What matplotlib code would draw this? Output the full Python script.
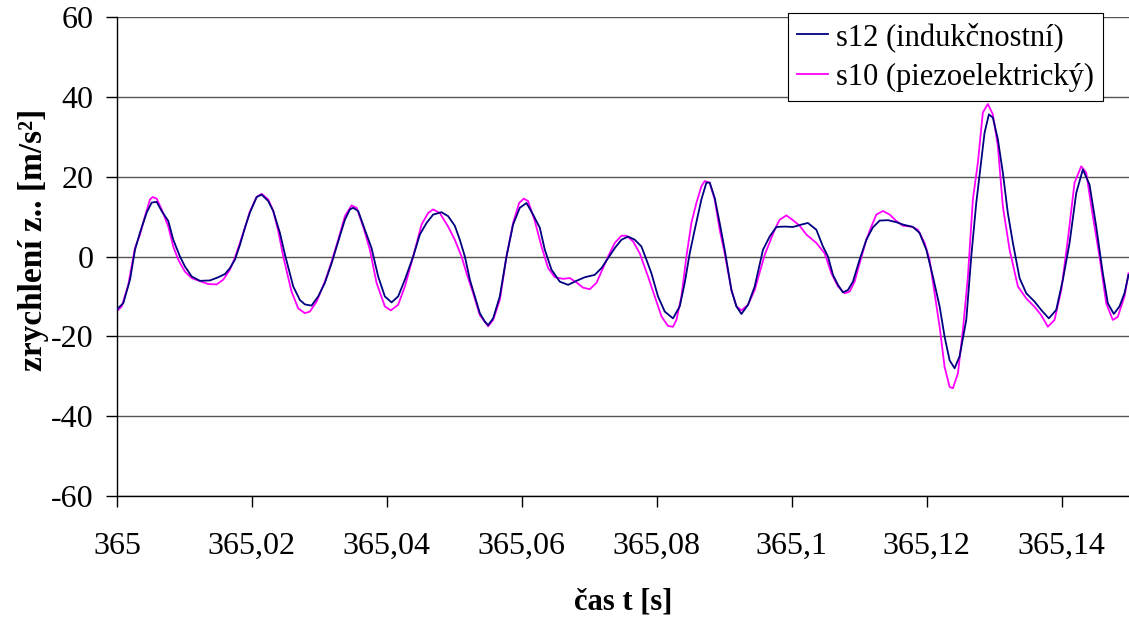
import matplotlib
matplotlib.use("Agg")
import matplotlib.pyplot as plt
import numpy as np

# time offsets in ms from 365 s, and values (m/s^2)
t12_ms = [0.0, 0.93, 1.93, 2.67, 3.41, 4.40, 5.14, 5.88, 6.62, 7.60, 8.34, 9.33, 10.07, 11.07, 12.30,
          13.78, 15.01, 16.00, 16.74, 17.48, 18.22, 18.96, 19.70, 20.70, 21.44, 22.41, 23.16, 24.15,
          24.89, 26.12, 27.11, 27.85, 28.84, 29.82, 30.81, 31.81, 32.79, 33.78, 34.52, 35.01, 35.75,
          36.74, 37.73, 38.71, 39.70, 40.70, 41.67, 42.67, 43.90, 44.89, 45.88, 46.86, 48.10, 49.08,
          50.07, 50.81, 51.56, 52.30, 53.04, 53.78, 54.52, 55.01, 55.75, 56.74, 57.73, 58.71, 59.70,
          60.70, 61.67, 62.67, 63.41, 64.40, 65.63, 66.86, 68.10, 69.33, 70.81, 71.81, 72.79, 73.78,
          74.77, 75.75, 76.74, 77.73, 78.47, 79.21, 80.19, 81.19, 82.41, 83.41, 84.15, 84.89, 85.63,
          86.62, 87.36, 87.85, 88.59, 89.33, 90.07, 91.07, 91.81, 92.55, 93.53, 94.52, 95.75, 96.74,
          97.73, 98.96, 100.19, 101.44, 102.41, 103.66, 104.64, 105.38, 106.12, 106.86, 107.60, 108.34,
          109.08, 110.07, 111.07, 112.04, 113.04, 114.27, 115.51, 116.49, 117.97, 118.96, 119.96,
          120.93, 121.93, 122.67, 123.41, 124.15, 124.89, 125.88, 126.62, 127.36, 128.10, 128.59,
          129.23, 129.82, 130.56, 131.30, 132.04, 132.79, 133.78, 134.77, 136.00, 136.99, 138.12,
          139.21, 140.19, 141.19, 142.18, 143.16, 144.15, 145.14, 146.12, 146.86, 147.75, 148.59,
          149.33, 149.93]
s12 = [-13.2, -11.7, -5.8, 1.7, 6.0, 11.0, 13.5, 13.7, 11.4, 8.9, 4.2, 0.0, -2.5, -5.0, -6.1,
       -6.0, -5.2, -4.4, -2.9, -0.8, 2.9, 7.2, 11.0, 14.9, 15.5, 13.9, 11.4, 5.9,
       0.5, -7.5, -10.9, -12.0, -12.3, -10.0, -6.6, -1.7, 3.8, 9.2, 11.8, 12.2, 11.4,
       6.7, 2.1, -5.0, -10.0, -11.5, -10.0, -5.8, 0.0, 5.5, 8.4, 10.5, 11.1, 10.1,
       7.7, 4.2, 0.0, -5.8, -10.0, -14.2, -16.3, -17.2, -15.5, -10.0, 0.0, 8.0, 12.2,
       13.4, 10.5, 7.2, 1.7, -3.3, -6.3, -7.1, -6.1, -5.2, -4.6, -2.9, -0.4, 2.1,
       4.2, 5.0, 4.2, 2.5, -0.8, -4.2, -10.0, -13.8, -15.5, -12.5, -6.6, 0.8, 6.7,
       14.3, 18.5, 18.5, 14.7, 8.4, 1.7, -8.4, -12.5, -14.4, -12.1, -7.5, 1.7, 5.0,
       7.4, 7.5, 7.4, 8.0, 8.4, 6.7, 2.5, 0.0, -4.6, -7.1, -9.0, -8.4,
       -6.3, -0.8, 4.2, 7.3, 9.0, 9.1, 8.6, 8.0, 7.4, 5.9, 1.7,
       -5.0, -12.5, -20.1, -26.0, -28.0, -25.0, -15.9, 0.0, 13.4, 24.0, 31.0,
       35.6, 34.8, 29.4, 21.0, 10.9, 3.4, -5.4, -9.2, -11.3, -13.4, -15.5,
       -13.4, -5.9, 3.4, 15.9, 21.8, 18.0, 7.5, -4.2, -11.7, -14.4, -12.5,
       -9.2, -4.6]

t10_ms = [0.0, 0.70, 1.67, 2.67, 3.41, 4.15, 4.89, 5.29, 5.88, 6.62, 7.60, 8.34, 9.08, 10.07, 11.07,
          12.30, 13.53, 14.77, 15.75, 16.74, 17.48, 18.22, 18.96, 19.70, 20.70, 21.44, 22.41, 23.16,
          23.90, 24.64, 25.87, 26.86, 27.85, 28.59, 29.59, 30.81, 31.81, 32.79, 33.78, 34.77, 35.51,
          36.49, 37.48, 38.47, 39.70, 40.59, 41.67, 42.67, 43.90, 45.14, 46.12, 46.86, 47.85, 49.08,
          50.07, 51.07, 51.81, 52.79, 53.78, 54.77, 55.01, 55.75, 56.74, 57.73, 58.71, 59.60, 60.30,
          60.93, 61.93, 62.92, 63.90, 64.89, 66.12, 67.11, 68.10, 69.08, 70.07, 71.07, 72.04, 72.79,
          73.78, 74.77, 75.51, 76.49, 77.48, 78.71, 79.70, 80.70, 81.67, 82.41, 82.92, 83.66, 84.40,
          85.14, 85.88, 86.62, 87.11, 87.85, 88.59, 89.33, 90.07, 91.07, 91.81, 92.55, 93.53, 94.52,
          96.00, 97.48, 98.22, 99.21, 100.19, 101.19, 102.18, 103.66, 104.89, 105.88, 106.86, 107.85,
          108.59, 109.33, 110.07, 111.07, 111.81, 112.55, 113.53, 114.52, 115.51, 116.49, 117.73,
          118.71, 119.70, 120.44, 121.19, 121.93, 122.67, 123.41, 123.90, 124.64, 125.38, 126.12,
          126.86, 127.60, 128.34, 129.08, 129.82, 130.56, 131.30, 132.30, 133.53, 134.77, 136.00,
          136.99, 137.97, 138.96, 139.96, 140.93, 141.93, 142.92, 143.66, 144.64, 145.63, 146.62,
          147.60, 148.34, 149.33, 149.93]
s10 = [-13.7, -12.5, -7.1, 2.2, 5.5, 10.1, 14.3, 14.9, 14.5, 11.8, 7.5, 2.5, -0.8, -3.8, -5.4,
       -6.2, -6.9, -7.0, -5.8, -3.3, -0.3, 3.4, 7.2, 11.3, 14.9, 15.7, 14.3, 11.4,
       6.4, 0.0, -8.8, -13.0, -14.2, -13.8, -11.3, -6.3, -1.3, 4.2, 10.1, 12.8, 12.2,
       7.5, 1.7, -6.6, -12.5, -13.5, -12.1, -7.5, 0.0, 8.0, 10.9, 11.8, 10.9, 7.5,
       4.2, 0.0, -4.2, -9.2, -14.7, -16.9, -17.5, -15.9, -10.9, 0.0, 8.4, 13.4, 14.5,
       13.9, 8.9, 2.5, -2.9, -5.2, -5.6, -5.4, -6.5, -7.8, -8.2, -6.6, -2.9, 0.0,
       3.4, 5.2, 5.2, 3.8, 0.8, -5.0, -10.0, -15.0, -17.4, -17.6, -15.9, -10.0, 0.0,
       8.4, 13.4, 17.6, 18.9, 18.5, 14.3, 6.7, 0.8, -8.4, -12.5, -13.5, -12.1, -8.4,
       0.4, 6.7, 9.2, 10.3, 9.1, 7.7, 5.5, 3.4, 0.8, -4.2, -7.5, -9.2,
       -8.8, -6.3, -1.7, 4.2, 7.5, 10.5, 11.4, 10.5, 8.9, 7.7, 7.5,
       6.7, 3.4, -0.8, -9.2, -17.6, -27.7, -32.7, -33.0, -29.3, -18.4, -5.0,
       14.3, 23.5, 36.1, 38.2, 35.6, 27.7, 12.6, 1.7, -7.5, -10.5, -12.6,
       -14.7, -17.6, -15.9, -8.4, 4.2, 18.5, 22.6, 21.0, 10.1, 0.0, -11.7,
       -15.9, -15.1, -10.0, -4.2]

x_ticks = [365.0, 365.02, 365.04, 365.06, 365.08, 365.10, 365.12, 365.14]
x_tick_labels = ["365", "365,02", "365,04", "365,06", "365,08", "365,1", "365,12", "365,14"]
y_ticks = [-60, -40, -20, 0, 20, 40, 60]
y_tick_labels = ["-60", "-40", "-20", "0", "20", "40", "60"]

t12 = 365 + np.array(t12_ms) / 1000.0
t10 = 365 + np.array(t10_ms) / 1000.0

plt.rcParams['font.family'] = ['Liberation Serif', 'DejaVu Serif']

fig = plt.figure(figsize=(11.29, 6.17), dpi=100)
ax = fig.add_axes([117/1129, 1 - 496/617, 1 - 117/1129, (496 - 17)/617])

ax.plot(t12, s12, color='#000080', lw=1.3, label='s12 (indukčnostní)', zorder=3)
ax.plot(t10, s10, color='#FF00FF', lw=1.3, label='s10 (piezoelektrický)', zorder=2)

ax.set_xlim(365.0, 365.15)
ax.set_ylim(-60, 60)
ax.set_xticks(x_ticks)
ax.set_xticklabels(x_tick_labels)
ax.set_yticks(y_ticks)
ax.set_yticklabels(y_tick_labels)

ax.yaxis.grid(True, color='#555555', lw=1.0)
ax.set_axisbelow(True)
for s in ['top', 'right']:
    ax.spines[s].set_visible(False)
for s in ['left', 'bottom']:
    ax.spines[s].set_color('black')
    ax.spines[s].set_linewidth(1.0)

ax.tick_params(axis='both', labelsize=23, direction='out', length=8, width=1.0, colors='black')
ax.tick_params(axis='x', pad=18)
ax.tick_params(axis='y', pad=9)

ax.set_xlabel('čas t [s]', fontsize=22, fontweight='bold', labelpad=19)
ax.set_ylabel('zrychlení z.. [m/s²]', fontsize=24, fontweight='bold')
ax.yaxis.set_label_coords(-0.067, 0.535)

leg = ax.legend(loc='upper right', bbox_to_anchor=(1103/1129, 1 - 13/617),
                bbox_transform=fig.transFigure, fontsize=22, frameon=True, fancybox=False,
                framealpha=1.0, edgecolor='black', handlelength=1.0, handletextpad=0.27,
                borderpad=0.3, labelspacing=0.35, borderaxespad=0)
leg.get_frame().set_linewidth(0.8)

fig.savefig('out.png', dpi=100)
